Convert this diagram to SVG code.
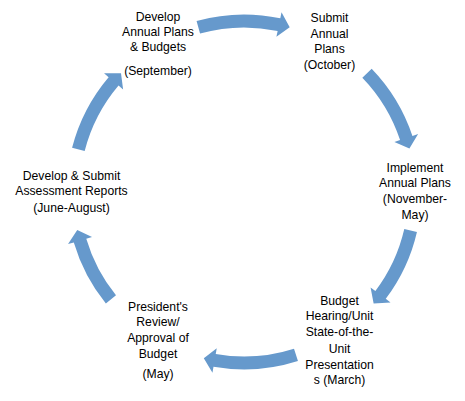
<svg xmlns="http://www.w3.org/2000/svg" width="465" height="401" viewBox="0 0 465 401">
<style>
  .arrow { fill: #6699cc; stroke: none; }
  text { font-family: "Liberation Sans", Arial, sans-serif; font-size: 12.2px; fill: #000; text-anchor: middle; }
</style>
<rect width="465" height="401" fill="#fff"/>
<g id="connectors">
  <path class="arrow" d="M196.57,20.96 A177.5,177.5 0 0 1 280.30,18.25 L281.53,12.37 L289.69,27.22 L276.41,36.84 L277.64,30.97 A164.5,164.5 0 0 0 200.05,33.49 Z"/>
  <path class="arrow" d="M371.68,68.69 A177.5,177.5 0 0 1 412.43,135.98 L418.12,134.09 L409.41,148.60 L394.40,141.98 L400.09,140.08 A164.5,164.5 0 0 0 362.33,77.72 Z"/>
  <path class="arrow" d="M416.95,231.94 A177.5,177.5 0 0 1 385.75,298.82 L390.54,302.43 L373.64,303.51 L370.58,287.39 L375.37,291.00 A164.5,164.5 0 0 0 404.29,229.01 Z"/>
  <path class="arrow" d="M297.96,361.10 A177.5,177.5 0 0 1 213.49,366.86 L212.46,372.77 L203.80,358.21 L216.75,348.14 L215.72,354.05 A164.5,164.5 0 0 0 294.01,348.72 Z"/>
  <path class="arrow" d="M105.87,303.47 A177.5,177.5 0 0 1 73.81,242.41 L68.06,244.11 L77.26,229.88 L92.03,237.01 L86.28,238.72 A164.5,164.5 0 0 0 115.99,295.31 Z"/>
  <path class="arrow" d="M72.07,147.86 A177.5,177.5 0 0 1 108.62,77.19 L104.04,73.31 L121.00,73.21 L123.11,89.48 L118.54,85.60 A164.5,164.5 0 0 0 84.67,151.09 Z"/>
</g>
<g id="node-develop-plans">
  <text x="158" y="20.5">Develop</text>
  <text x="158" y="35.5">Annual Plans</text>
  <text x="158" y="51">&amp; Budgets</text>
  <text x="158" y="74.5">(September)</text>
</g>
<g id="node-submit">
  <text x="329.5" y="22">Submit</text>
  <text x="329.5" y="37.5">Annual</text>
  <text x="329.5" y="53">Plans</text>
  <text x="329.5" y="69">(October)</text>
</g>
<g id="node-implement">
  <text x="415" y="171.5">Implement</text>
  <text x="415" y="186.5">Annual Plans</text>
  <text x="415" y="202.5">(November-</text>
  <text x="415" y="218.5">May)</text>
</g>
<g id="node-budget-hearing">
  <text x="339.5" y="304.5">Budget</text>
  <text x="339.5" y="319.5">Hearing/Unit</text>
  <text x="339.5" y="335.5">State-of-the-</text>
  <text x="339.5" y="352.5">Unit</text>
  <text x="339.5" y="368.5">Presentation</text>
  <text x="339.5" y="383.5">s (March)</text>
</g>
<g id="node-president">
  <text x="158" y="310.5">President's</text>
  <text x="158" y="325.5">Review/</text>
  <text x="158" y="341.5">Approval of</text>
  <text x="158" y="357.5">Budget</text>
  <text x="158" y="377.5">(May)</text>
</g>
<g id="node-assessment">
  <text x="71.5" y="179.5">Develop &amp; Submit</text>
  <text x="71.5" y="194.5">Assessment Reports</text>
  <text x="71.5" y="211.5">(June-August)</text>
</g>
</svg>
